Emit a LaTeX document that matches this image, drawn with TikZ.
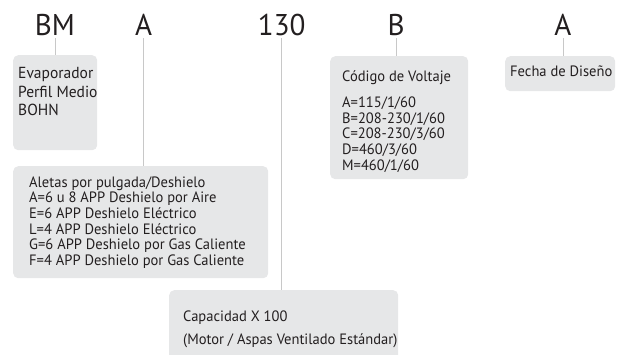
\documentclass[tikz,border=0pt]{standalone}
\usepackage{fontspec}
\setmainfont[FakeStretch=0.97]{PT Sans}
\usetikzlibrary{positioning}

\definecolor{boxgray}{RGB}{230,231,232}
\definecolor{linegray}{RGB}{200,200,200}
\definecolor{inkblack}{RGB}{35,31,32}

\tikzset{
    codebox/.style={fill=boxgray,rounded corners=5pt,anchor=north west,inner sep=0pt},
    boxtext/.style={anchor=base west,inner sep=0pt,align=left,text=inkblack,
        font=\fontsize{15}{15.7}\selectfont},
}

\begin{document}
\begin{tikzpicture}[x=1pt,y=-1pt]
        \useasboundingbox (0,0) rectangle (619,354);
        \begin{scope}[every node/.style={anchor=base,inner sep=0pt,text depth=3pt,
                    text=inkblack,font=\fontsize{30}{30}\selectfont}]
            \node (hBM) at (55, 35) {BM};
            \node (hA) at (143.7, 35) {A};
            \node (h130) at (281.7, 35) {130};
            \node (hB) at (396, 35) {B};
            \node (hA2) at (563, 35) {A};
        \end{scope}

        % cajas
        \node[codebox, minimum width=84pt, minimum height=95pt] (evap) at (13, 55) {};
        \node[codebox, minimum width=255pt, minimum height=112pt] (aletas) at (13, 166) {};
        \node[codebox, minimum width=138pt, minimum height=123pt] (volt) at (330, 56) {};
        \node[codebox, minimum width=110pt, minimum height=35pt] (fecha) at (505, 56) {};
        \node[codebox, minimum width=229pt, minimum height=80pt] (cap) at (169, 290) {};

        % textos (base = ultima linea)
        \node[boxtext, font=\fontsize{16}{18.5}\selectfont] (tEvap) at (18, 115.6)
            {Evaporador\\Perfil Medio\\BOHN};
        \node[boxtext] (tAletas) at (29, 265.5)
            {Aletas por pulgada/Deshielo\\
             A=6 u 8 APP Deshielo por Aire\\
             E=6 APP Deshielo Eléctrico\\
             L=4 APP Deshielo Eléctrico\\
             G=6 APP Deshielo por Gas Caliente\\
             F=4 APP Deshielo por Gas Caliente};
        \node[boxtext] (tVolt) at (342, 170.1)
            {Código de Voltaje\\[10.6pt]
             A=115/1/60\\
             B=208-230/1/60\\
             C=208-230/3/60\\
             D=460/3/60\\
             M=460/1/60};
        \node[boxtext] (tFecha) at (510, 76.5) {Fecha de Diseño};
        \node[boxtext, font=\fontsize{15}{23}\selectfont] (tCap) at (183, 344.3)
            {Capacidad X 100\\(Motor / Aspas Ventilado Estándar)};

        \coordinate (eA) at (143.7, 166);
        \coordinate (e130) at (281.7, 290);

        \begin{scope}[every edge/.style={draw=linegray,line width=0.9pt}]
            \path [-] (hBM) edge (hBM |- evap.north);
            \path [-] (hA) edge (eA);
            \path [-] (h130) edge (e130);
            \path [-] (hB) edge (hB |- volt.north);
            \path [-] (hA2) edge (hA2 |- fecha.north);
        \end{scope}
    \end{tikzpicture}
\end{document}
